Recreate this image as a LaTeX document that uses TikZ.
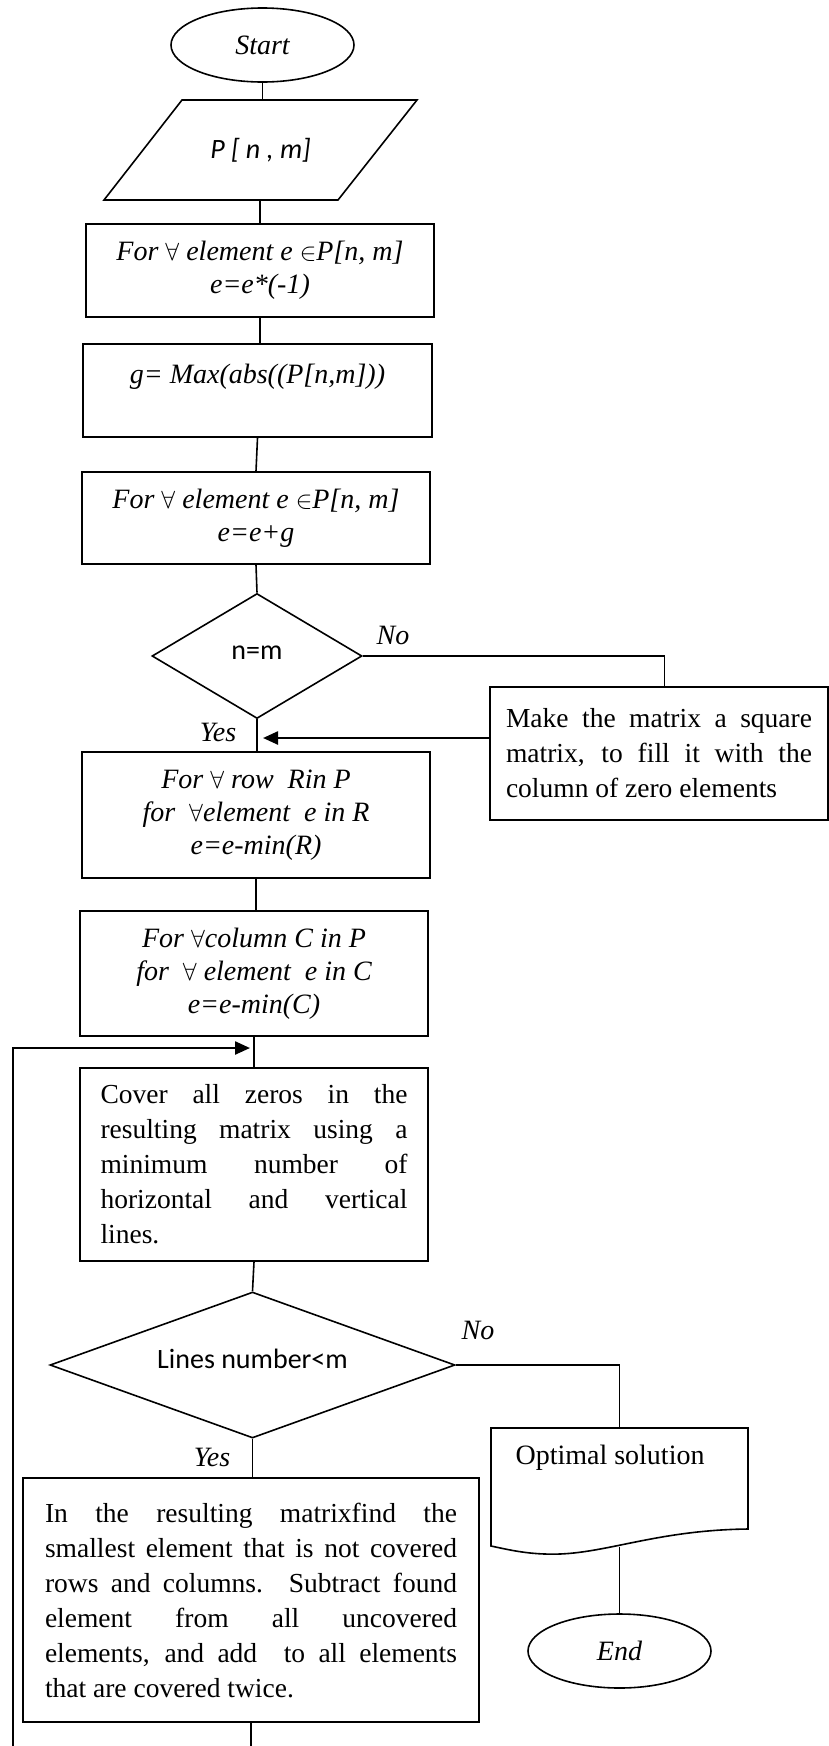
\documentclass[tikz,border=0pt]{standalone}
\usepackage{fontspec}
\setmainfont{Liberation Serif}
\newfontfamily\calibri{Carlito}
\usepackage{tikz}
\usetikzlibrary{arrows.meta,shapes.geometric,calc}

\tikzset{
  base/.style={draw, line width=1.6pt, inner sep=0pt},
  term/.style={base, ellipse, minimum width=183pt, minimum height=74pt,
    font=\fontsize{28}{33}\selectfont\itshape},
  intext/.style={font=\fontsize{28}{33}\selectfont\calibri\itshape},
  proc/.style={base, rectangle, align=center, font=\fontsize{28}{33}\selectfont\itshape},
  note/.style={base, rectangle, align=justify, font=\fontsize{27.5}{35}\selectfont},
  dec/.style={base, diamond, aspect=1.7, font=\fontsize{28}{33}\selectfont\calibri},
  tag/.style={font=\fontsize{28}{33}\selectfont\itshape},
  line/.style={line width=1.6pt},
  flow/.style={line width=2.4pt, -{Triangle[length=15pt,width=13pt]}}
}

\begin{document}
\begin{tikzpicture}[x=1pt, y=-1pt]
\useasboundingbox (0,0) rectangle (829,1746);

% main column
\node[term] (start) at (262.5,45) {Start};
\draw[line] (182,100) -- (417,100) -- (338,200) -- (104,200) -- cycle;
\node[intext] (input) at (260.5,150) {P [ n , m]};
\node[proc, minimum width=348pt, minimum height=93pt] (negate) at (260,270.5)
  {For $\forall$ element e $\in$P[n, m]\\ e=e*(-1)};
\node[proc, minimum width=349pt, minimum height=93pt] (maxg) at (257.5,390.5)
  {g= Max(abs((P[n,m]))\\ ~};
\node[proc, minimum width=348pt, minimum height=92pt] (shift) at (256,518)
  {For $\forall$ element e $\in$P[n, m]\\ e=e+g};
\node[dec, minimum width=210pt, minimum height=125pt] (issq) at (257,656)
  {\raisebox{6pt}{n=m}};
\node[note, text width=306pt, inner xsep=16pt, minimum height=133pt] (square) at (659,753.5)
  {Make the matrix a square\linebreak matrix, to fill it with the\linebreak column of zero elements};
\node[proc, minimum width=348pt, minimum height=126pt] (rowmin) at (256,815)
  {For $\forall$ row~ Rin P\\ for~ $\forall$element~ e in R\\ e=e-min(R)};
\node[proc, minimum width=348pt, minimum height=125pt] (colmin) at (254,973.5)
  {For~$\forall$column C in P\\ for~ $\forall$ element~ e in C\\ e=e-min(C)};
\node[note, text width=307pt, inner xsep=20.5pt, minimum height=193pt] (cover) at (254,1164.5)
  {Cover all zeros in the\linebreak resulting matrix using a\linebreak minimum number of\linebreak horizontal and vertical\linebreak lines.};
\node[dec, minimum width=405pt, minimum height=146pt] (fewer) at (252.5,1365)
  {\raisebox{12pt}{Lines number<m}};
\node[note, text width=412pt, inner xsep=22pt, minimum height=244pt] (adjust) at (251,1600)
  {In the resulting matrixfind the\linebreak smallest element that is not covered\linebreak rows and columns. Subtract found\linebreak element from all uncovered\linebreak elements, and add~ to all elements\linebreak that are covered twice.};

% output and end
\node[anchor=west, font=\fontsize{28}{33}\selectfont] (out) at (512,1458) {Optimal solution};
\draw[line] (491,1428) -- (748,1428) -- (748,1529)
  .. controls (660,1530) and (610,1552) .. (560,1554)
  .. controls (530,1555) and (510,1550) .. (491,1546) -- cycle;
\node[term] (stop) at (619.5,1651) {End};

% labels
\node[tag] (no1) at (393,635) {No};
\node[tag] (yes1) at (218,732) {Yes};
\node[tag] (no2) at (478,1330) {No};
\node[tag] (yes2) at (212,1457) {Yes};

\coordinate (intop) at (262.5,100);
\coordinate (inbot) at (260,200);
\coordinate (yesjoin) at (263,738);
\coordinate (loopend) at (250,1048);
\coordinate (loopstart) at (13,1746);
\coordinate (adjustout) at (251,1746);
\coordinate (outtop) at (619.5,1428);
\coordinate (outbot) at (619.5,1547);

% connectors
\draw[line] (start.south) -- (intop);
\draw[line] (inbot) -- (inbot |- negate.north);
\draw[line] (negate.south) -- (negate.south |- maxg.north);
\draw[line] (maxg.south) -- (shift.north);
\draw[line] (shift.south) -- (issq.north);
\draw[line] (issq.south) -- (issq.south |- rowmin.north);
\draw[line] (issq.east) -| ([xshift=5.5pt]square.north);
\draw[flow] (square.west |- yesjoin) -- (yesjoin);
\draw[line] (rowmin.south) -- (rowmin.south |- colmin.north);
\draw[line] (colmin.south) -- (cover.north);
\draw[flow] (loopstart) |- (loopend);
\draw[line] (cover.south) -- (fewer.north);
\draw[line] (fewer.south) -- (fewer.south |- adjust.north);
\draw[line] (adjust.south) -- (adjustout);
\draw[line] (fewer.east) -| (outtop);
\draw[line] (outbot) -- (stop.north);
\end{tikzpicture}
\end{document}
